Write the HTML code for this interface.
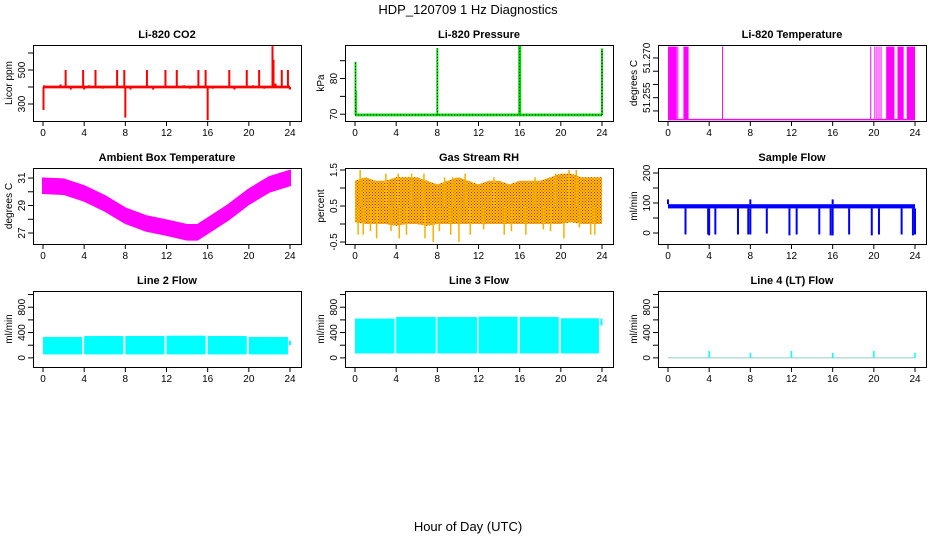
<!DOCTYPE html>
<html><head><meta charset="utf-8"><style>
body{margin:0;background:#fff;}
svg{display:block;font-family:"Liberation Sans",sans-serif;}
</style></head><body>
<svg id="c" width="936" height="540" viewBox="0 0 936 540" xmlns="http://www.w3.org/2000/svg">
<defs>
<pattern id="rhpat" width="3" height="3" patternUnits="userSpaceOnUse">
<rect width="3" height="3" fill="#f9c800"/><rect x="0" y="0" width="1" height="1" fill="#e8101a"/><rect x="1.5" y="1.5" width="1" height="1" fill="#e8101a"/>
</pattern>
</defs>
<text x="468" y="14" text-anchor="middle" font-size="13">HDP_120709 1 Hz Diagnostics</text>
<text x="468" y="531" text-anchor="middle" font-size="13">Hour of Day (UTC)</text>
</svg>
<script>
// ---- data ----
const xTicks=[0,4,8,12,16,20,24];
// CO2
const co2Base=400;
const co2SpikeHours=[0.05,0.1,1.7,2.2,2.7,3.3,3.9,4.0,4.5,5.1,5.8,6.5,7.2,7.9,8.0,8.5,10.1,10.7,11.3,11.9,13.0,13.7,14.3,15.1,15.8,16.0,16.5,18.1,18.6,19.8,20.4,21.0,21.5,22.3,22.4,22.6,23.2,23.8,24.0];
const co2SpikeVals=[265,410,415,500,385,405,500,385,410,500,390,405,500,500,220,385,500,385,405,500,500,410,390,500,500,205,390,500,385,500,410,500,390,640,560,420,500,500,385];
// Pressure
const presBase=69.8;
const presSpikeHours=[0.05,0.1,8.0,15.95,16.0,16.05,24.0];
const presSpikeVals=[84.7,76.6,88.5,89.3,89.3,89.3,88.4];
// Li-820 temperature
const tempLow=51.2467, tempHigh=51.2743;
const tempBlocks=[[0.1,0.85],[1.5,2.0],[21.2,22.0],[22.3,22.9],[23.2,24.0]];
const tempLines=[0.05,0.95,5.3,19.7,20.1,20.3,20.5,20.7];
// Ambient
const ambHours=[0,2,4,6,8,10,12,14,15,16,18,20,22,24];
const ambCenter=[30.44,30.37,29.88,29.16,28.26,27.70,27.39,27.05,27.05,27.53,28.5,29.64,30.54,31.0];
const ambHalf=0.53;
// RH
const rhHours=[0,1,2,3,4,5,6,7,8,9,10,11,12,13,14,15,16,17,18,19,20,21,22,23,24];
const rhUpper=[1.2,1.3,1.2,1.2,1.3,1.3,1.3,1.2,1.1,1.2,1.3,1.2,1.1,1.2,1.2,1.1,1.2,1.2,1.2,1.3,1.4,1.4,1.3,1.3,1.3];
const rhLower=[0.05,0.0,0.0,0.0,-0.05,0.0,0.0,-0.05,0.0,0.0,0.0,0.0,0.0,0.0,0.0,0.0,0.0,0.0,0.0,0.0,0.0,0.05,0.0,0.0,0.0];
const rhSpikeHours=[0.5,3.0,4.2,5.5,6.7,8.7,9.5,10.7,13.5,17.5,19.5,20.8,21.5,0.3,0.8,2.1,4.3,5.0,6.8,7.6,9.3,10.1,11.2,14.5,16.6,20.3,22.9,23.3,1.5,3.5,8.2,12.5,15.2,18.3,19.0,21.8];
const rhSpikeVals=[1.5,1.4,1.4,1.4,1.4,1.3,1.3,1.4,1.3,1.3,1.4,1.5,1.5,-0.3,-0.3,-0.4,-0.4,-0.3,-0.4,-0.5,-0.3,-0.5,-0.3,-0.3,-0.3,-0.4,-0.3,-0.3,-0.2,-0.2,-0.2,-0.15,-0.2,-0.15,-0.2,-0.1];
// Sample flow
const sfLow=82, sfHigh=96;
const sfDipHours=[1.7,3.9,4.0,4.6,6.8,7.8,8.0,9.6,11.8,12.5,14.7,15.8,16.0,17.6,19.8,20.5,22.7,23.8,24.0];
const sfDipVals=[-5,-5,-8,-5,-5,-5,-5,-2,-8,-5,-5,-8,-8,-5,-8,-5,-5,-8,-5];
const sfSpikeHours=[0.0,8.0,16.0];
const sfSpikeVals=[112,112,112];
// Line 2
const l2Starts=[0.0,4.0,8.0,12.0,16.0,20.0];
const l2Ends=[3.8,7.8,11.8,15.8,19.8,23.8];
const l2Tops=[330,345,345,350,345,330];
const l2Bottom=55;
const l2TailHour=24.0, l2TailLo=200, l2TailHi=270;
// Line 3
const l3Starts=[0.0,4.0,8.0,12.0,16.0,20.0];
const l3Ends=[3.85,7.85,11.85,15.8,19.8,23.7];
const l3Tops=[620,645,645,650,645,625];
const l3Bottom=70;
const l3TailHour=23.95, l3TailLo=510, l3TailHi=620;
// Line 4
const l4SpikeHours=[4,8,12,16,20,24];
const l4SpikeVals=[110,80,110,80,110,80];

// ---- drawing ----
const svg=document.getElementById('c');
const NS='http://www.w3.org/2000/svg';
function mk(tag,attrs,parent){const e=document.createElementNS(NS,tag);for(const k in attrs)e.setAttribute(k,attrs[k]);(parent||svg).appendChild(e);return e;}
const colLeft=[33,345,658], rowTop=[45,168,291], W=268, H=76;
function panel(col,row,ylim,yTicks,yLabels,title,ylab,name){
  const L=colLeft[col],T=rowTop[row],B=T+H;
  const g=mk('g',{});
  
  
  const sx=h=>L+10+h*(247/24);
  const sy=v=>B-(v-ylim[0])/(ylim[1]-ylim[0])*H;
  const t=mk('text',{x:L+W/2,y:T-7,'text-anchor':'middle','font-size':11,'font-weight':'bold'},g);t.textContent=title;
  
  
  const yl=mk('text',{x:0,y:0,'text-anchor':'middle','font-size':10,transform:`translate(${L-21},${T+H/2}) rotate(-90)`},g);yl.textContent=ylab;
  
  
  const ax=mk('g',{stroke:'#000','stroke-width':1,fill:'none'},g);
  
  
  xTicks.forEach(h=>{mk('line',{x1:sx(h),x2:sx(h),y1:B,y2:B+5},ax);
    const tx=mk('text',{x:sx(h),y:B+15,'text-anchor':'middle','font-size':10,fill:'#000',stroke:'none'},g);tx.textContent=h;
    
    });
  mk('line',{x1:sx(0),x2:sx(24),y1:B+0.5,y2:B+0.5},ax);
  yTicks.forEach((v,i)=>{const y=sy(v);mk('line',{x1:L-5,x2:L,y1:y,y2:y},ax);
    if(yLabels[i]){const ty=mk('text',{x:0,y:0,'text-anchor':'middle','font-size':10,fill:'#000',stroke:'none',transform:`translate(${L-8},${y}) rotate(-90)`},g);ty.textContent=yLabels[i];
    
    }});
  const plot=mk('g',{},g);
  
  
  const box=mk('rect',{x:L+0.5,y:T+0.5,width:W,height:H,fill:'none',stroke:'#000'},g);
  
  
  return {sx,sy,plot};
}
function vline(p,h,v1,v2,color,w){mk('line',{x1:p.sx(h),x2:p.sx(h),y1:p.sy(v1),y2:p.sy(v2),stroke:color,'stroke-width':w||1.5},p.plot);}
function rectv(p,h1,h2,v1,v2,fill){const x1=p.sx(h1),x2=p.sx(h2),y1=p.sy(v2),y2=p.sy(v1);mk('rect',{x:x1,y:y1,width:Math.max(1,x2-x1),height:Math.max(1,y2-y1),fill:fill},p.plot);}

// CO2
let p=panel(0,0,[200,647],[300,400,500,600],['300','','500',''],'Li-820 CO2','Licor ppm','co2-panel');
rectv(p,0,24,co2Base-8,co2Base+8,'#f00');
co2SpikeHours.forEach((h,i)=>vline(p,h,co2Base,co2SpikeVals[i],'#f00',2));
// Pressure
p=panel(1,0,[68.1,89.4],[70,75,80,85],['70','','80',''],'Li-820 Pressure','kPa','pressure-panel');
rectv(p,0,24,presBase-0.4,presBase+0.4,'#00e000');
mk('line',{x1:p.sx(0),x2:p.sx(24),y1:p.sy(presBase),y2:p.sy(presBase),stroke:'#000','stroke-width':1,'stroke-dasharray':'1 2'},p.plot);
presSpikeHours.forEach((h,i)=>{vline(p,h,presBase,presSpikeVals[i],'#00e000',2);});
[0.05,8,16,24].forEach(h=>{mk('line',{x1:p.sx(h),x2:p.sx(h),y1:p.sy(presBase),y2:p.sy(presSpikeVals[presSpikeHours.indexOf(h)]),stroke:'#000','stroke-width':1,'stroke-dasharray':'1 2'},p.plot);});
// Temperature
p=panel(2,0,[51.2462,51.2749],[51.250,51.255,51.260,51.265,51.270],['','51.255','','','51.270'],'Li-820 Temperature','degrees C','li820-temp-panel');
mk('line',{x1:p.sx(0),x2:p.sx(24),y1:p.sy(tempLow),y2:p.sy(tempLow),stroke:'#f0f','stroke-width':1.5},p.plot);
tempBlocks.forEach(b=>rectv(p,b[0],b[1],tempLow,tempHigh,'#f0f'));
tempLines.forEach(h=>vline(p,h,tempLow,tempHigh,'#f0f',1));
// Ambient
p=panel(0,1,[26.2,31.73],[27,28,29,30,31],['27','','29','','31'],'Ambient Box Temperature','degrees C','ambient-temp-panel');
{let pts=ambHours.map((h,i)=>p.sx(h)+','+p.sy(ambCenter[i]+ambHalf));
 let pts2=ambHours.map((h,i)=>p.sx(h)+','+p.sy(ambCenter[i]-ambHalf)).reverse();
 mk('polygon',{points:pts.concat(pts2).join(' '),fill:'#f0f',stroke:'#f0f','stroke-width':2},p.plot);}
// RH
p=panel(1,1,[-0.556,1.556],[-0.5,0,0.5,1,1.5],['-0.5','','0.5','','1.5'],'Gas Stream RH','percent','gas-rh-panel');
{let pts=rhHours.map((h,i)=>p.sx(h)+','+p.sy(rhUpper[i]));
 let pts2=rhHours.map((h,i)=>p.sx(h)+','+p.sy(rhLower[i])).reverse();
 mk('polygon',{points:pts.concat(pts2).join(' '),fill:'url(#rhpat)'},p.plot);}
rhSpikeHours.forEach((h,i)=>vline(p,h,0.5,rhSpikeVals[i],'#f7b000',1.5));
// Sample flow
p=panel(2,1,[-36.7,216.7],[0,50,100,150,200],['0','','100','','200'],'Sample Flow','ml/min','sample-flow-panel');
rectv(p,0,24,sfLow,sfHigh,'#00f');
sfDipHours.forEach((h,i)=>vline(p,h,sfLow,sfDipVals[i],'#00f',2));
sfSpikeHours.forEach((h,i)=>vline(p,h,sfHigh,sfSpikeVals[i],'#00f',2));
// Line 2
const fTicks=[0,200,400,600,800,1000], fLab=['0','','400','','800',''];
p=panel(0,2,[-144,1056],fTicks,fLab,'Line 2 Flow','ml/min','line2-flow-panel');
l2Starts.forEach((s,i)=>rectv(p,s,l2Ends[i],l2Bottom,l2Tops[i],'#0ff'));
vline(p,l2TailHour,l2TailLo,l2TailHi,'#0ff',2);
// Line 3
p=panel(1,2,[-144,1056],fTicks,fLab,'Line 3 Flow','ml/min','line3-flow-panel');
l3Starts.forEach((s,i)=>rectv(p,s,l3Ends[i],l3Bottom,l3Tops[i],'#0ff'));
vline(p,l3TailHour,l3TailLo,l3TailHi,'#0ff',2);
// Line 4
p=panel(2,2,[-144,1056],fTicks,fLab,'Line 4 (LT) Flow','ml/min','line4-flow-panel');
mk('line',{x1:p.sx(0),x2:p.sx(24),y1:p.sy(0),y2:p.sy(0),stroke:'#9cc','stroke-width':1},p.plot);
l4SpikeHours.forEach((h,i)=>vline(p,h,0,l4SpikeVals[i],'#0ff',1.5));
</script>
</body></html>
